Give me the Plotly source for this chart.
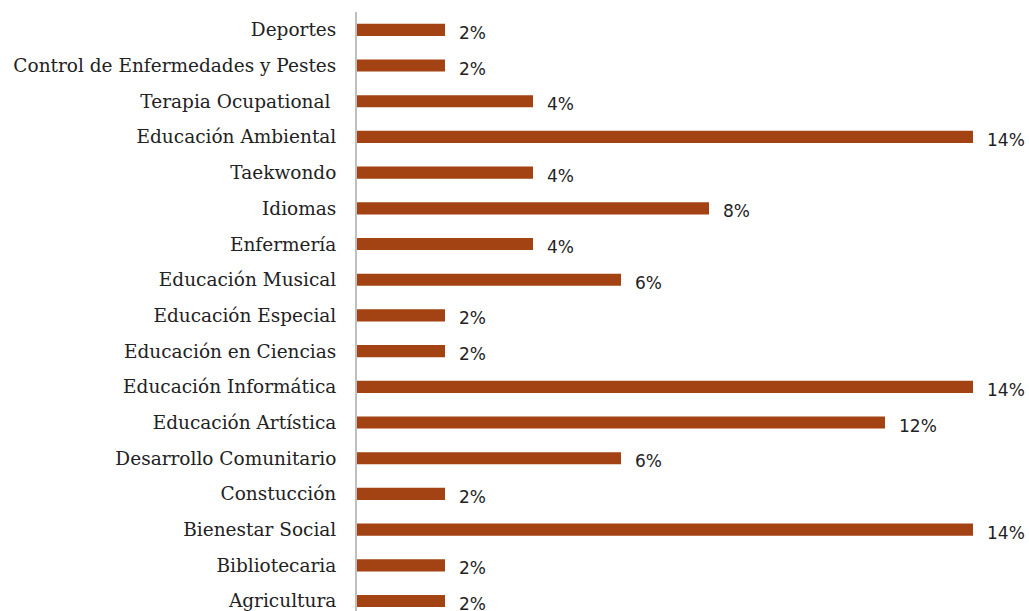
import plotly.graph_objects as go

categories = [
    "Deportes", "Control de Enfermedades y Pestes", "Terapia Ocupational ",
    "Educación Ambiental", "Taekwondo", "Idiomas", "Enfermería",
    "Educación Musical", "Educación Especial", "Educación en Ciencias",
    "Educación Informática", "Educación Artística", "Desarrollo Comunitario",
    "Constucción", "Bienestar Social", "Bibliotecaria", "Agricultura",
]
values = [2, 2, 4, 14, 4, 8, 4, 6, 2, 2, 14, 12, 6, 2, 14, 2, 2]
value_labels = [f"{v}%" for v in values]

cats_bt = categories[::-1]
vals_bt = values[::-1]
labels_bt = value_labels[::-1]

BAR = "#A34313"

fig = go.Figure(go.Bar(
    x=vals_bt, y=cats_bt, orientation="h",
    marker=dict(color=BAR, line=dict(width=0)),
    width=0.34, hoverinfo="skip",
))

for c, v, t in zip(cats_bt, vals_bt, labels_bt):
    fig.add_annotation(x=v, y=c, text=t, showarrow=False, xanchor="left",
                       xshift=12, yshift=-3,
                       font=dict(family="DejaVu Sans", size=17, color="#222222"))

fig.update_layout(
    width=1029, height=611,
    margin=dict(l=357, r=0, t=12, b=0),
    paper_bgcolor="white", plot_bgcolor="white",
    showlegend=False,
    xaxis=dict(range=[0, 672 / 44], visible=False, fixedrange=True),
    yaxis=dict(
        categoryorder="array", categoryarray=cats_bt,
        range=[-0.28, 16.5],
        showline=True, linecolor="#BFBFBF", linewidth=2,
        showgrid=False, zeroline=False, fixedrange=True,
        ticks="", ticklabelstandoff=15,
        tickfont=dict(family="DejaVu Serif", size=18.5, color="#222222"),
    ),
)

fig.write_html(
    "out.html",
    config={"displayModeBar": False},
    post_script="document.body.style.margin='0';document.body.style.overflow='hidden';",
)
